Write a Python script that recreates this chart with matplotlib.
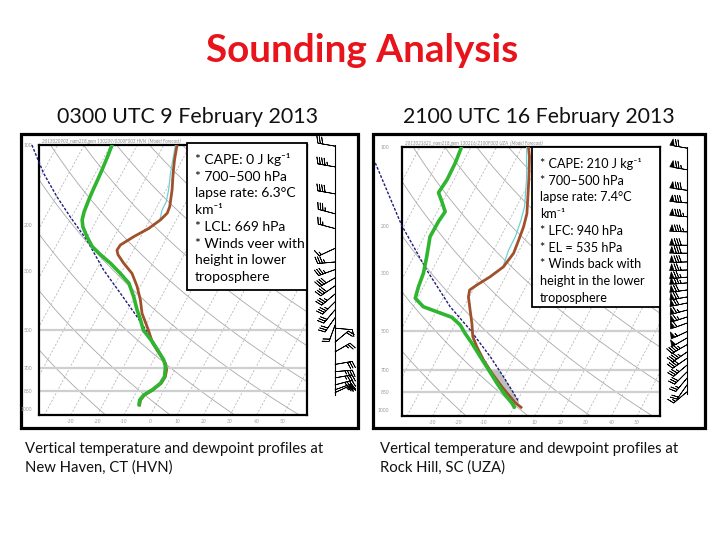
import numpy as np
import matplotlib
matplotlib.use('Agg')
import matplotlib.pyplot as plt
from matplotlib.patches import Rectangle
from matplotlib.ticker import NullLocator, FixedLocator

plt.rcParams['font.family'] = ['Lato', 'DejaVu Sans']

# ---------------- text ----------------
title = "Sounding Analysis"
subtitles = ["0300 UTC 9 February 2013", "2100 UTC 16 February 2013"]
captions = [["Vertical temperature and dewpoint profiles at", "New Haven, CT (HVN)"],
            ["Vertical temperature and dewpoint profiles at", "Rock Hill, SC (UZA)"]]
box_left = ["* CAPE: 0 J kg\u207b\u00b9", "* 700\u2013500 hPa", "lapse rate: 6.3\u00b0C",
            "km\u207b\u00b9", "* LCL: 669 hPa", "* Winds veer with", "height in lower",
            "troposphere"]
box_right = ["* CAPE: 210 J kg\u207b\u00b9", "* 700\u2013500 hPa", "lapse rate: 7.4\u00b0C",
             "km\u207b\u00b9", "* LFC: 940 hPa", "* EL = 535 hPa", "* Winds back with",
             "height in the lower", "troposphere"]
headers = ["2013020903_nam218.gem 130209/0300F003 HVN  (Model Forecast)",
           "2013021621_nam218.gem 130216/2100F003 UZA  (Model Forecast)"]

pressure_ticks = [100, 200, 300, 500, 700, 850, 1000]
temp_ticks = [-30, -20, -10, 0, 10, 20, 30, 40, 50]
gray_levels = [500, 700, 850]

# ---------------- HVN (left) ----------------
hvn_temp_p = [100, 114, 128, 148, 171, 181, 192, 207, 222, 239, 250, 260, 280, 306, 343,
              386, 433, 501, 562, 623, 669, 709, 752, 797, 845, 882, 921, 962]
hvn_temp = [-45.0, -42.9, -40.7, -37.7, -35.2, -34.8, -36.0, -38.7, -42.6, -46.0, -46.2,
            -44.9, -41.0, -35.8, -31.2, -27.2, -23.9, -18.1, -13.8, -8.5, -4.9, -3.1,
            -2.2, -2.4, -4.2, -6.3, -6.8, -6.1]
hvn_dwpt_p = [100, 111, 124, 136, 148, 161, 179, 192, 204, 222, 242, 260, 280, 306, 333,
              375, 421, 459, 501, 554, 605, 650, 689, 752, 797, 845, 882, 921, 962]
hvn_dwpt = [-69.5, -68.8, -68.2, -67.8, -67.5, -67.1, -66.4, -65.5, -63.8, -60.3, -56.3,
            -51.5, -46.0, -40.2, -35.0, -30.4, -26.4, -23.1, -20.0, -14.3, -9.8, -6.2,
            -4.2, -2.5, -2.7, -4.5, -6.6, -7.1, -6.4]
hvn_parcel_p = [100, 128, 157, 187, 229, 297, 364, 446, 531, 614, 669]
hvn_parcel = [-99.7, -89.5, -79.7, -70.6, -59.6, -47.2, -36.1, -25.1, -16.0, -8.8, -5.1]
hvn_tv_p = [100, 128, 148, 164, 176, 192]
hvn_tv = [-45.6, -41.7, -39.0, -37.5, -37.4, -36.2]
hvn_wind_p = [101, 121, 153, 182, 207, 246, 277, 296, 318, 341, 366, 392, 420, 450, 480,
              493, 557, 606, 676, 720, 760, 808, 843, 864]
hvn_wind_dir = [280, 280, 280, 285, 285, 245, 265, 250, 240, 235, 230, 225, 220, 215, 200,
                95, 50, 60, 80, 85, 80, 75, 70, 65]
hvn_wind_spd = [30, 45, 40, 35, 25, 15, 35, 35, 40, 40, 35, 35, 30, 30, 20,
                10, 20, 25, 30, 35, 35, 35, 30, 25]

# ---------------- UZA (right) ----------------
uza_temp_p = [100, 109, 133, 179, 201, 226, 253, 285, 311, 334, 349, 370, 416, 467, 525,
              573, 644, 723, 813, 887, 935, 973]
uza_temp = [-47.5, -45.1, -40.7, -34.5, -33.1, -32.3, -31.6, -32.8, -36.0, -39.5, -41.3,
            -40.4, -37.0, -33.6, -30.5, -26.9, -21.5, -15.5, -8.9, -3.6, -0.4, 2.8]
uza_dwpt_p = [100, 115, 133, 149, 161, 176, 192, 219, 261, 302, 339, 375, 404, 422, 443,
              474, 510, 556, 625, 702, 789, 874, 940, 973]
uza_dwpt = [-73.7, -72.9, -72.7, -73.4, -70.3, -66.9, -67.5, -67.7, -64.9, -62.8, -62.0,
            -60.9, -56.0, -49.7, -42.7, -37.8, -34.2, -29.5, -23.5, -17.5, -11.5, -5.9,
            -1.5, 0.2]
uza_parcel_p = [115, 198, 293, 404, 495, 625, 745, 861, 926]
uza_parcel = [-104.2, -81.2, -62.2, -45.5, -32.9, -19.6, -10.3, -2.9, 0.7]
uza_tv_p = [100, 133, 168, 189, 219, 246, 285]
uza_tv = [-48.2, -41.6, -36.9, -35.5, -34.3, -34.2, -33.0]
uza_wind_p = [101, 122, 146, 163, 184, 210, 236, 253, 273, 293, 312, 328, 349, 371, 391,
              416, 442, 466, 502, 531, 563, 600, 634, 673, 714, 754, 800, 850]
uza_wind_dir = [280, 280, 278, 275, 275, 272, 270, 270, 268, 268, 265, 265, 262, 260, 258,
                255, 252, 250, 245, 240, 240, 235, 235, 230, 225, 220, 215, 230]
uza_wind_spd = [70, 75, 80, 80, 85, 85, 80, 80, 80, 75, 75, 75, 70, 70, 70,
                65, 65, 60, 55, 50, 45, 45, 40, 35, 30, 25, 20, 15]

# ---------------- figure ----------------
W, H = 720, 540
fig = plt.figure(figsize=(7.2, 5.4), dpi=100)
fig.patch.set_facecolor('white')
renderer = fig.canvas.get_renderer()

def px_axes(x0, y0, x1, y1, **kw):
    return fig.add_axes([x0 / W, 1 - y1 / H, (x1 - x0) / W, (y1 - y0) / H], **kw)

bg = px_axes(0, 0, W, H, zorder=0)
bg.set_xlim(0, W); bg.set_ylim(H, 0); bg.axis('off')
ov = px_axes(0, 0, W, H, zorder=20)
ov.set_xlim(0, W); ov.set_ylim(H, 0); ov.axis('off'); ov.patch.set_alpha(0)

def fit_text(ax, x, y, s, width, **kw):
    t = ax.text(x, y, s, fontsize=10, **kw)
    bb = t.get_window_extent(renderer)
    t.set_fontsize(10 * width / bb.width)
    return t

K = 23.4  # skew (degC per ln p)
P0 = 1050.0

def skew(T, p):
    T = np.asarray(T, float); p = np.asarray(p, float)
    return T + K * np.log(P0 / p)

panels = [
    dict(frame=(21, 134, 358, 428), ax=(39, 145, 307, 415), box=(187, 143, 307, 290),
         barb=(310, 145, 358, 415), staff=335, staff_bot=880, ylab_pad=5,
         temp=(hvn_temp_p, hvn_temp), dwpt=(hvn_dwpt_p, hvn_dwpt),
         parcel=(hvn_parcel_p, hvn_parcel), tv=(hvn_tv_p, hvn_tv),
         wind=(hvn_wind_p, hvn_wind_dir, hvn_wind_spd), text=box_left,
         sub_c=188, sub_w=260, cap_x=25, cap_w=298, header=headers[0], cape=False),
    dict(frame=(373, 134, 705, 428), ax=(402, 147, 660, 416), box=(532, 147, 660, 307),
         barb=(662, 147, 704, 416), staff=687, staff_bot=870, ylab_pad=9,
         temp=(uza_temp_p, uza_temp), dwpt=(uza_dwpt_p, uza_dwpt),
         parcel=(uza_parcel_p, uza_parcel), tv=(uza_tv_p, uza_tv),
         wind=(uza_wind_p, uza_wind_dir, uza_wind_spd), text=box_right,
         sub_c=539, sub_w=272, cap_x=380, cap_w=299, header=headers[1], cape=True),
]

# title
fit_text(bg, 362, 51, title, 313, color='#e8141b', fontweight='bold',
         ha='center', va='center')

pgrid = np.geomspace(P0, 100, 80)

for k, pn in enumerate(panels):
    fx0, fy0, fx1, fy1 = pn['frame']
    bg.add_patch(Rectangle((fx0, fy0), fx1 - fx0, fy1 - fy0, facecolor='white',
                           edgecolor='black', lw=2.3, zorder=1))
    fit_text(bg, pn['sub_c'], 117, subtitles[k], pn['sub_w'],
             color='#111111', ha='center', va='center')
    cap = captions[k]
    t1 = fit_text(bg, pn['cap_x'], 449, cap[0], pn['cap_w'], color='#111111',
                  ha='left', va='center')
    bg.text(pn['cap_x'], 468, cap[1], fontsize=t1.get_fontsize(), color='#111111',
            ha='left', va='center')

    ax0, ay0, ax1, ay1 = pn['ax']
    ax = px_axes(ax0, ay0, ax1, ay1, zorder=5)
    ax.set_yscale('log')
    ax.set_ylim(P0, 100)
    ax.set_xlim(-42, 59)
    ax.yaxis.set_major_locator(FixedLocator(pressure_ticks))
    ax.yaxis.set_minor_locator(NullLocator())
    ax.set_yticklabels([str(v) for v in pressure_ticks])
    ax.set_xticks(temp_ticks)
    ax.set_xticklabels([str(v) for v in temp_ticks])
    ax.tick_params(axis='both', length=0, labelsize=3.6, labelcolor='#9a9a9a')
    ax.tick_params(axis='y', pad=pn['ylab_pad'])
    ax.tick_params(axis='x', pad=3)
    for lab in ax.get_xticklabels():
        lab.set_fontstyle('italic')
    for s in ax.spines.values():
        s.set_linewidth(1.6)
        s.set_color('black')

    # background lines
    for T0 in range(-160, 70, 10):
        ax.plot(skew(np.full_like(pgrid, T0), pgrid), pgrid, color='#b8b8b8', lw=0.6,
                ls=(0, (2.5, 2.0)), zorder=1)
    for th in np.arange(228.7, 520, 24.0):
        Tad = th * (pgrid / 1000.0) ** 0.286 - 273.15
        ax.plot(skew(Tad, pgrid), pgrid, color='#a8a8a8', lw=0.6, zorder=1)
    for lev in gray_levels:
        ax.axhline(lev, color='#cfcfcf', lw=1.6, zorder=1)

    # CAPE shading
    if pn['cape']:
        pp = np.geomspace(945, 700, 40)
        tp = np.interp(np.log(pp), np.log(pn['parcel'][0]), pn['parcel'][1])
        te = np.interp(np.log(pp), np.log(pn['temp'][0]), pn['temp'][1])
        ax.fill_betweenx(pp, skew(te, pp), skew(np.maximum(tp, te), pp),
                         color='#bfbfbf', zorder=2, lw=0)

    # profiles
    tp_, tv_ = pn['tv']
    ax.plot(skew(tv_, tp_), tp_, color='#6fcfd6', lw=0.9, zorder=3)
    pp_, pv_ = pn['parcel']
    ax.plot(skew(pv_, pp_), pp_, color='#1c1c7a', lw=1.0, ls=(0, (2, 1.2)), zorder=4,
            clip_on=False)
    p_, t_ = pn['temp']
    ax.plot(skew(t_, p_), p_, color='#a0502a', lw=2.0, zorder=5)
    pd_, d_ = pn['dwpt']
    ax.plot(skew(d_, pd_), pd_, color='#2fb52f', lw=2.6, zorder=6,
            solid_capstyle='round')

    # header
    bg.text(ax0 + 3, ay0 - 4, pn['header'], fontsize=3.3, color='#8a8a8a',
            ha='left', va='center', fontstyle='italic')

    # wind barbs
    bx0, by0, bx1, by1 = pn['barb']
    axb = px_axes(bx0, by0, bx1, by1, zorder=6)
    axb.set_yscale('log')
    axb.set_ylim(P0, 100)
    axb.set_xlim(bx0, bx1)
    axb.axis('off')
    wp, wd, ws = [np.asarray(a, float) for a in pn['wind']]
    u = -ws * np.sin(np.radians(wd))
    v = -ws * np.cos(np.radians(wd))
    axb.plot([pn['staff'], pn['staff']], [100, pn['staff_bot']], color='black', lw=0.8)
    axb.barbs(np.full(len(wp), pn['staff']), wp, u, v, length=5.0, linewidth=0.55,
              color='black', pivot='tip', clip_on=False,
              sizes=dict(spacing=0.14, height=0.38, width=0.25))

    # text box
    x0b, y0b, x1b, y1b = pn['box']
    ov.add_patch(Rectangle((x0b, y0b), x1b - x0b, y1b - y0b, facecolor='white',
                           edgecolor='black', lw=1.3, zorder=1))
    lines = pn['text']
    longest = max(lines, key=len)
    probe = fit_text(ov, x0b + 8, -100, longest, 104 if pn['cape'] else 101)
    fs = probe.get_fontsize()
    probe.remove()
    for i, line in enumerate(lines):
        ov.text(x0b + 8, y0b + 17 + 16.7 * i, line, fontsize=fs, color='black',
                ha='left', va='center', zorder=2)

fig.savefig('out.png', dpi=100, facecolor='white')
